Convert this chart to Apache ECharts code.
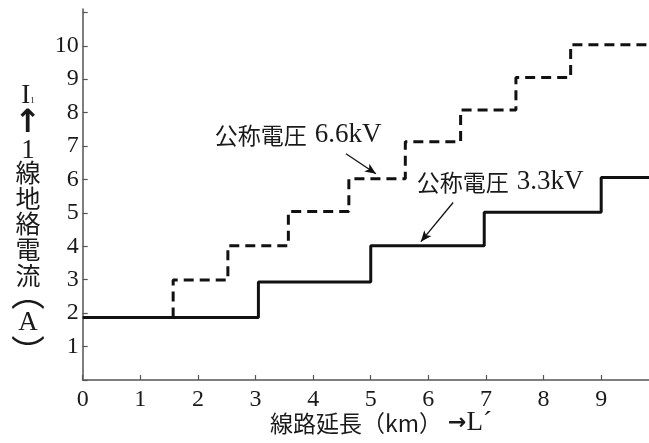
<!DOCTYPE html>
<html>
<head>
<meta charset="utf-8">
<script src="https://cdn.jsdelivr.net/npm/echarts@6/dist/echarts.min.js"></script>
<style>
html,body{margin:0;padding:0;background:#fff;}
#chart{width:649px;height:443px;}
</style>
</head>
<body>
<div id="chart"></div>
<script>
// ---- data ----
const xTickLabels = ['0','1','2','3','4','5','6','7','8','9'];
const yTickLabels = ['1','2','3','4','5','6','7','8','9','10'];
const xMax = 9.83;
const yMax = 11.1;

// 公称電圧 3.3kV (solid): x where each level starts, and level values
const stepX33 = [0, 3.05, 5.0, 6.97, 9.0, 9.83];
const level33 = [1.87, 2.93, 4.02, 5.02, 6.06, 6.06];

// 公称電圧 6.6kV (dashed)
const stepX66 = [1.57, 1.57, 2.52, 3.57, 4.62, 5.6, 6.56, 7.52, 8.47, 9.83];
const level66 = [1.87, 2.99, 4.02, 5.04, 6.02, 7.13, 8.08, 9.05, 10.03, 10.03];

// annotation arrows (data coords: from -> to)
const arrow66 = [[4.57, 6.77], [5.09, 6.17]];
const arrow33 = [[6.43, 5.31], [5.87, 4.14]];

const label66 = ['公称電圧', '6.6kV'];
const label33 = ['公称電圧', '3.3kV'];
const xTitle = ['線路延長（km）', '→', 'L´'];
const yTitleChars = ['1','線','地','絡','電','流','A'];

const SERIF = "'Liberation Serif', 'DejaVu Serif', serif";
const CJK = "'Noto Sans CJK JP', sans-serif";

const chart = echarts.init(document.getElementById('chart'));

function pairs(xs, ys){ return xs.map((x,i)=>[x, ys[i]]); }

const yTitleY = [151, 172, 198, 223, 249, 275, 323];
const yTitleGraphics = yTitleChars.map((c, i) => ({
  type: 'text',
  x: 28, y: yTitleY[i],
  style: {
    text: c,
    fill: '#1a1a1a',
    fontSize: /[0-9A-Z]/.test(c) ? 27 : 25,
    fontFamily: /[0-9A-Z]/.test(c) ? SERIF : CJK,
    align: 'center',
    verticalAlign: 'middle'
  }
}));

function annot(x, y, parts){
  return { type: 'text', x: x, y: y, style: {
    text: '{c|' + parts[0] + '}{l|' + parts[1] + '}',
    align: 'center', verticalAlign: 'middle', fill: '#1a1a1a',
    rich: {
      c: { fontSize: 23, fontFamily: CJK, fill: '#1a1a1a', padding: [0, 8, 0, 0] },
      l: { fontSize: 27, fontFamily: SERIF, fill: '#1a1a1a' }
    }
  } };
}

const option = {
  animation: false,
  backgroundColor: '#fff',
  grid: { left: 82.7, right: 0, top: 9, bottom: 63, containLabel: false },
  xAxis: {
    type: 'value',
    min: 0, max: xMax, interval: 1,
    axisLine: { show: true, lineStyle: { color: '#555', width: 1.5 } },
    axisTick: { show: true, inside: true, length: 5, lineStyle: { color: '#555', width: 1.2 } },
    splitLine: { show: false },
    axisLabel: {
      margin: 8,
      color: '#1a1a1a',
      fontFamily: SERIF,
      fontSize: 24,
      showMaxLabel: false,
      formatter: v => (Number.isInteger(v) && xTickLabels.includes(String(v))) ? String(v) : ''
    }
  },
  yAxis: {
    type: 'value',
    min: 0, max: yMax, interval: 1,
    axisLine: { show: true, lineStyle: { color: '#555', width: 1.5 } },
    axisTick: { show: true, inside: true, length: 5, lineStyle: { color: '#555', width: 1.2 } },
    splitLine: { show: false },
    axisLabel: {
      margin: 4,
      color: '#1a1a1a',
      fontFamily: SERIF,
      fontSize: 24,
      showMaxLabel: false,
      formatter: v => (Number.isInteger(v) && yTickLabels.includes(String(v))) ? String(v) : ''
    }
  },
  series: [
    {
      name: '公称電圧 6.6kV',
      type: 'line',
      step: 'end',
      symbol: 'none',
      data: pairs(stepX66, level66),
      lineStyle: { color: '#111', width: 3, type: [10, 6] },
      z: 3,
      markLine: {
        silent: true,
        symbol: ['none', 'arrow'],
        symbolSize: [7, 11],
        label: { show: false },
        lineStyle: { color: '#111', width: 1.3, type: 'solid' },
        data: [[{ coord: arrow66[0] }, { coord: arrow66[1] }]]
      }
    },
    {
      name: '公称電圧 3.3kV',
      type: 'line',
      step: 'end',
      symbol: 'none',
      data: pairs(stepX33, level33),
      lineStyle: { color: '#111', width: 3, type: 'solid' },
      z: 4,
      markLine: {
        silent: true,
        symbol: ['none', 'arrow'],
        symbolSize: [7, 11],
        label: { show: false },
        lineStyle: { color: '#111', width: 1.3, type: 'solid' },
        data: [[{ coord: arrow33[0] }, { coord: arrow33[1] }]]
      }
    }
  ],
  graphic: [
    annot(298, 135, label66),
    annot(500, 182, label33),
    { type: 'text', x: 381, y: 423, style: {
        text: '{c|' + xTitle[0] + '}{a|' + xTitle[1] + '}{l|' + xTitle[2] + '}',
        align: 'center', verticalAlign: 'middle', fill: '#1a1a1a',
        rich: {
          c: { fontSize: 23, fontFamily: CJK, fill: '#1a1a1a' },
          a: { fontSize: 22, fontWeight: 'bold', fontFamily: '"DejaVu Sans"', fill: '#1a1a1a', padding: [0, 0, 0, 6] },
          l: { fontSize: 27, fontFamily: SERIF, fill: '#1a1a1a' }
        } } },
    { type: 'text', x: 28, y: 96, style: { text: '{a|I}{b|1}', fill: '#1a1a1a', align: 'center', verticalAlign: 'middle',
        rich: { a: { fontSize: 27, fontFamily: SERIF, fill: '#1a1a1a' }, b: { fontSize: 9, fontFamily: SERIF, fill: '#1a1a1a', padding: [10,0,0,0] } } } },
    { type: 'text', x: 28, y: 124, style: { text: '↑', fill: '#1a1a1a', fontSize: 32, fontWeight: 'bold', fontFamily: '"DejaVu Sans"', align: 'center', verticalAlign: 'middle' } },
    { type: 'text', x: 28, y: 293, style: { text: '︵', fill: '#1a1a1a', fontSize: 34, fontFamily: CJK, align: 'center', verticalAlign: 'middle' } },
    { type: 'text', x: 28, y: 352, style: { text: '︶', fill: '#1a1a1a', fontSize: 34, fontFamily: CJK, align: 'center', verticalAlign: 'middle' } }
  ].concat(yTitleGraphics)
};

chart.setOption(option);
</script>
</body>
</html>
